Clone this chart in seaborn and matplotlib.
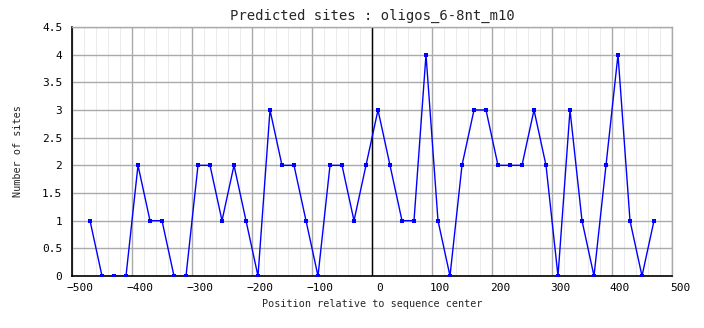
import matplotlib
matplotlib.use("Agg")
import matplotlib.pyplot as plt
import matplotlib.transforms as mtransforms
from matplotlib.ticker import MultipleLocator, FixedLocator
import seaborn as sns
import pandas as pd

positions = [-470, -450, -430, -410, -390, -370, -350, -330, -310, -290,
             -270, -250, -230, -210, -190, -170, -150, -130, -110, -90,
             -70, -50, -30, -10, 10, 30, 50, 70, 90, 110,
             130, 150, 170, 190, 210, 230, 250, 270, 290, 310,
             330, 350, 370, 390, 410, 430, 450, 470]
sites = [1, 0, 0, 0, 2, 1, 1, 0, 0, 2,
         2, 1, 2, 1, 0, 3, 2, 2, 1, 0,
         2, 2, 1, 2, 3, 2, 1, 1, 4, 1,
         0, 2, 3, 3, 2, 2, 2, 3, 2, 0,
         3, 1, 0, 2, 4, 1, 0, 1]
x_ticks = [-500, -400, -300, -200, -100, 0, 100, 200, 300, 400, 500]
y_ticks = [0, 0.5, 1, 1.5, 2, 2.5, 3, 3.5, 4, 4.5]
y_tick_labels = ["0", "0.5", "1", "1.5", "2", "2.5", "3", "3.5", "4", "4.5"]

df = pd.DataFrame({"pos": positions, "n": sites})

sns.set_theme(style="white")
plt.rcParams["font.family"] = ["DejaVu Sans Mono"]

fig = plt.figure(figsize=(7.04, 3.28), dpi=100)
ax = fig.add_axes([72 / 704, 1 - 276 / 328, 600 / 704, 249 / 328])

sns.lineplot(data=df, x="pos", y="n", ax=ax, color="#0000ff", linewidth=1,
             marker="s", markersize=3, markeredgewidth=0, zorder=3)

ax.set_xlim(-500, 500)
ax.set_ylim(0, 4.5)
ax.xaxis.set_major_locator(FixedLocator(x_ticks))
ax.xaxis.set_minor_locator(MultipleLocator(20))
ax.set_yticks(y_ticks)
ax.set_yticklabels(y_tick_labels)
ax.set_axisbelow(True)

# light vertical guides every 20 positions, darker ones every 100
ax.xaxis.grid(True, which="minor", color="#ebebeb", linewidth=0.75)
ax.xaxis.grid(True, which="major", color="#aaaaaa", linewidth=1)
ax.yaxis.grid(True, which="major", color="#aaaaaa", linewidth=1)

ax.axvline(0, color="black", linewidth=1, zorder=2)

for side in ["top", "right"]:
    ax.spines[side].set_color("#aaaaaa")
    ax.spines[side].set_linewidth(1)
for side in ["left", "bottom"]:
    ax.spines[side].set_color("black")
    ax.spines[side].set_linewidth(1.2)

ax.tick_params(which="both", length=0, labelsize=8, colors="black")
ax.tick_params(axis="x", pad=5)
ax.tick_params(axis="y", pad=7)

# tick labels sit slightly to the right of their grid lines
offset = mtransforms.ScaledTranslation(8 / 100, 0, fig.dpi_scale_trans)
for lbl in ax.get_xticklabels():
    lbl.set_transform(lbl.get_transform() + offset)

ax.set_title("Predicted sites : oligos_6-8nt_m10", fontsize=10, pad=5)
ax.set_xlabel("Position relative to sequence center", fontsize=7.3)
ax.xaxis.set_label_coords(0.5, -23 / 249)
ax.set_ylabel("Number of sites", fontsize=7.3)
ax.yaxis.set_label_coords(-49 / 600, 0.5)

fig.savefig("out.png", dpi=100)
